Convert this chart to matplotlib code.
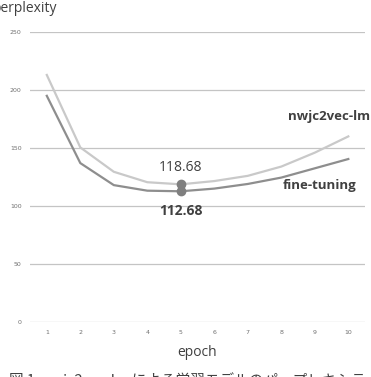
import matplotlib
matplotlib.use("Agg")
import matplotlib.pyplot as plt

epochs = [1, 2, 3, 4, 5, 6, 7, 8, 9, 10]
nwjc2vec_lm = [213, 150.5, 129.5, 120.5, 118.68, 121.5, 126, 134, 146, 160]
fine_tuning = [195, 137, 118, 113.2, 112.68, 115, 119, 124.5, 132.5, 140.5]
yticks = [0, 50, 100, 150, 200, 250]
best_epoch = 5

light = "#c9c9c9"
dark = "#8e8e8e"
marker_c = "#7f7f7f"
text_c = "#404040"

fig = plt.figure(figsize=(3.71, 3.77), dpi=100)
ax = fig.add_axes([0.081, 0.146, 0.903, 0.769])

ax.plot(epochs, nwjc2vec_lm, color=light, lw=1.6, zorder=3)
ax.plot(epochs, fine_tuning, color=dark, lw=1.6, zorder=3)

i = epochs.index(best_epoch)
ax.plot([best_epoch] * 2, [nwjc2vec_lm[i], fine_tuning[i]], "o",
        color=marker_c, ms=6, zorder=4)
ax.annotate(f"{nwjc2vec_lm[i]:.2f}", (best_epoch, nwjc2vec_lm[i]),
            xytext=(0, 7), textcoords="offset points", ha="center", va="bottom",
            fontsize=10, color=text_c, family="Open Sans")
ax.annotate(f"{fine_tuning[i]:.2f}", (best_epoch, fine_tuning[i]),
            xytext=(0, -9), textcoords="offset points", ha="center", va="top",
            fontsize=10, color=text_c, fontweight="bold", family="Open Sans")

ax.text(10.65, 177, "nwjc2vec-lm", ha="right", va="center", fontsize=9.5,
        fontweight="bold", color=text_c, family="Open Sans")
ax.text(10.25, 118, "fine-tuning", ha="right", va="center", fontsize=9.5,
        fontweight="bold", color=text_c, family="Open Sans")

ax.set_xlim(0.5, 10.5)
ax.set_ylim(0, 250)
ax.set_xticks(epochs)
ax.set_yticks(yticks)
ax.tick_params(length=0, labelsize=4.5, labelcolor="#707070", pad=6)
ax.grid(axis="y", color="#c4c4c4", lw=0.9)
ax.set_axisbelow(True)
for s in ax.spines.values():
    s.set_visible(False)

ax.set_xlabel("epoch", fontsize=10, color=text_c, family="Open Sans", labelpad=7)
fig.text(-0.02, 0.978, "perplexity", fontsize=10, color=text_c,
         family="Open Sans", ha="left", va="center")

fig.text(0.025, 0.012, "図 1: nwjc2vec-lm による学習モデルのパープレキシティ",
         fontsize=10.5, color="#404040", family=["Noto Sans CJK JP", "DejaVu Sans"],
         ha="left", va="top")

fig.savefig("out.png", dpi=100)
